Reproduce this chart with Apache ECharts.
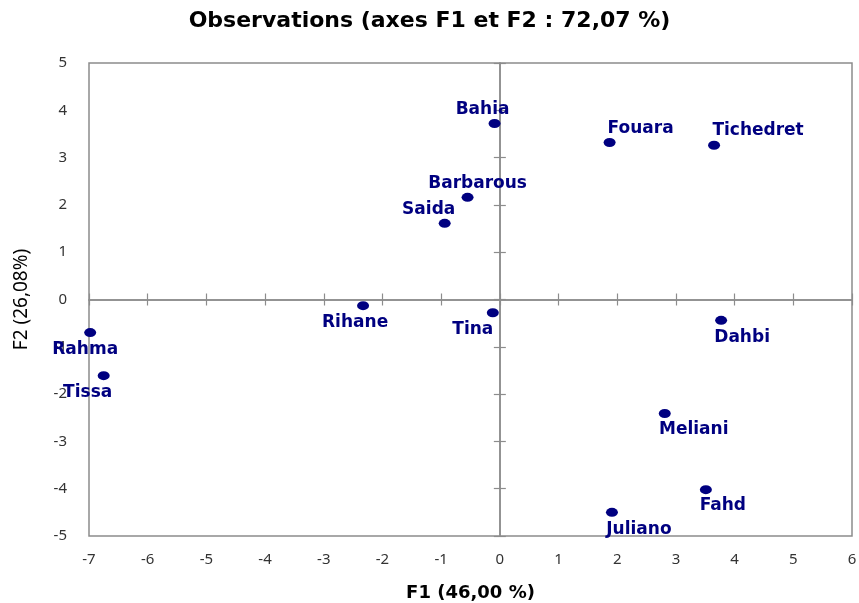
<!DOCTYPE html>
<html>
<head>
<meta charset="utf-8">
<script src="https://cdn.jsdelivr.net/npm/echarts@6/dist/echarts.min.js"></script>
<style>
  html, body { margin: 0; padding: 0; background: #fff; }
  #chart { width: 859px; height: 603px; }
</style>
</head>
<body>
<div id="chart"></div>
<script>
// Observations on the first two factorial axes
const names = ['Bahia', 'Fouara', 'Tichedret', 'Barbarous', 'Saida', 'Rihane', 'Tina',
               'Dahbi', 'Rahma', 'Tissa', 'Meliani', 'Fahd', 'Juliano'];
const f1 = [-0.09, 1.87, 3.65, -0.55, -0.94, -2.33, -0.12, 3.77, -6.98, -6.75, 2.81, 3.51, 1.91];
const f2 = [3.72, 3.32, 3.26, 2.16, 1.61, -0.13, -0.28, -0.44, -0.70, -1.61, -2.41, -4.02, -4.50];
const f1Range = [-7, 6];
const f2Range = [-5, 5];

// Where each point's name sits relative to its marker (pixels)
const labelNudge = {
  Bahia: [-12, -14], Fouara: [31, -14], Tichedret: [44, -15], Barbarous: [10, -14],
  Saida: [-16, -14], Rihane: [-8, 17], Tina: [-20, 17], Dahbi: [21, 17],
  Rahma: [-5, 17], Tissa: [-16, 17], Meliani: [29, 16], Fahd: [17, 16], Juliano: [27, 17]
};

const FONT = 'Noto Sans';
const BOLD_FONT = 'DejaVu Sans';
const AXIS_GRAY = '#8c8c8c';
const NAVY = '#000080';

const points = names.map((n, i) => ({
  name: n,
  value: [f1[i], f2[i]],
  label: { offset: labelNudge[n] }
}));

// Axis drawn through zero: line plus outward ticks, no labels.
// One copy on each side so the ticks cross the line.
function zeroAxis(base, position) {
  return Object.assign({}, base, {
    position: position,
    axisLine: { show: true, onZero: true, onZeroAxisIndex: 0, lineStyle: { color: AXIS_GRAY, width: 1.5 } },
    axisTick: { show: true, inside: false, length: 6, lineStyle: { color: AXIS_GRAY, width: 1.2 } },
    axisLabel: { show: false },
    splitLine: { show: false },
    name: ''
  });
}

const xBase = { type: 'value', min: f1Range[0], max: f1Range[1], interval: 1 };
const yBase = { type: 'value', min: f2Range[0], max: f2Range[1], interval: 1 };

const chart = echarts.init(document.getElementById('chart'), null, { renderer: 'canvas' });
chart.setOption({
  animation: false,
  backgroundColor: '#fff',
  title: {
    text: 'Observations (axes F1 et F2 : 72,07 %)',
    left: 'center',
    top: 5,
    textStyle: { fontFamily: BOLD_FONT, fontSize: 22, fontWeight: 'bold', color: '#000' }
  },
  grid: {
    left: 89, right: 7, top: 63, bottom: 67,
    containLabel: false,
    outerBoundsMode: 'none',
    show: true, borderColor: AXIS_GRAY, borderWidth: 1.5, backgroundColor: 'transparent'
  },
  xAxis: [
    Object.assign({}, xBase, {
      position: 'bottom',
      axisLine: { show: false, onZero: false },
      axisTick: { show: false },
      splitLine: { show: false },
      axisLabel: { color: '#333', fontFamily: FONT, fontSize: 15, margin: 16 },
      name: 'F1 (46,00 %)',
      nameLocation: 'middle',
      nameGap: 48,
      nameTextStyle: { fontFamily: BOLD_FONT, fontSize: 18, fontWeight: 'bold', color: '#000' }
    }),
    zeroAxis(xBase, 'bottom'),
    zeroAxis(xBase, 'top')
  ],
  yAxis: [
    Object.assign({}, yBase, {
      position: 'left',
      axisLine: { show: false, onZero: false },
      axisTick: { show: false },
      splitLine: { show: false },
      axisLabel: { color: '#333', fontFamily: FONT, fontSize: 15, margin: 22 },
      name: 'F2 (26,08%)',
      nameLocation: 'middle',
      nameRotate: 90,
      nameGap: 58,
      nameTextStyle: { fontFamily: FONT, fontSize: 19, color: '#000' }
    }),
    zeroAxis(yBase, 'left'),
    zeroAxis(yBase, 'right')
  ],
  series: [{
    type: 'scatter',
    xAxisIndex: 0,
    yAxisIndex: 0,
    symbol: 'circle',
    symbolSize: [12, 9],
    itemStyle: { color: NAVY, opacity: 1 },
    label: {
      show: true,
      position: 'inside',
      formatter: '{b}',
      color: NAVY,
      fontFamily: BOLD_FONT,
      fontSize: 17,
      fontWeight: 'bold'
    },
    data: points,
    z: 5
  }]
});
</script>
</body>
</html>
